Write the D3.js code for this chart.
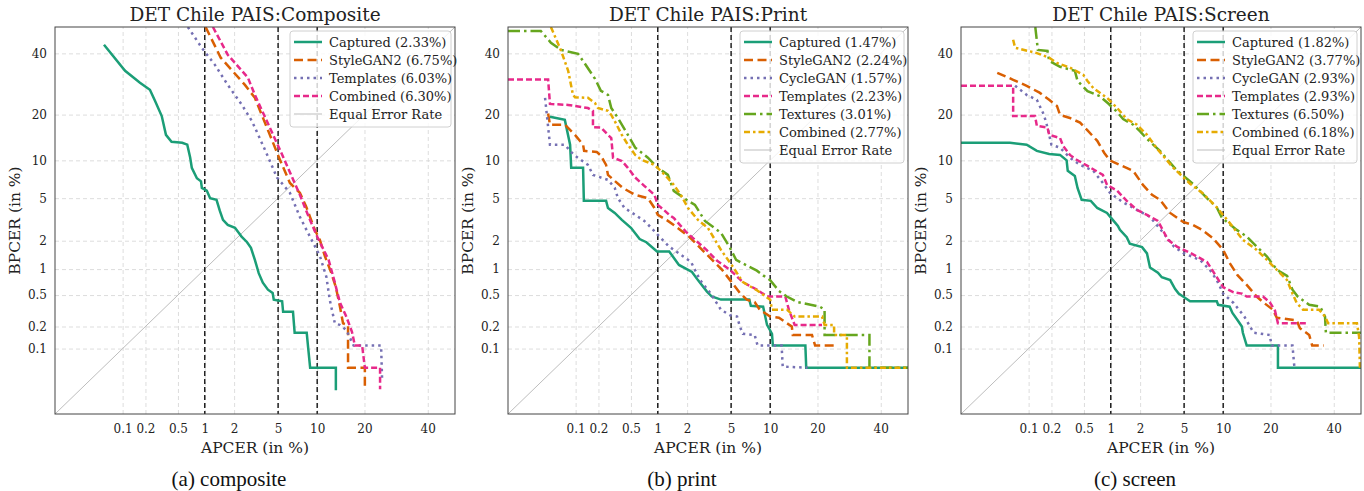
<!DOCTYPE html>
<html>
<head>
<meta charset="utf-8">
<script src="https://cdn.jsdelivr.net/npm/d3@7"></script>
<style>
  body { margin: 0; background: #fff; }
  svg { display: block; }
  .tick text { font-family: "DejaVu Serif", serif; font-size: 12px; fill: #222; }
  .grid line { stroke: #d4d4d4; stroke-dasharray: 4,3; stroke-width: 0.8; }
  .grid path { display: none; }
  .axis path { display: none; }
</style>
</head>
<body>
<div id="chart"></div>
<script>

// ---- data (APCER %, BPCER %) ----
const tickValues = [0.1, 0.2, 0.5, 1, 2, 5, 10, 20, 40];
const operatingPoints = [1, 5, 10];
const panelTitles = ["DET Chile PAIS:Composite", "DET Chile PAIS:Print", "DET Chile PAIS:Screen"];
const captions = ["(a) composite", "(b) print", "(c) screen"];

// composite
const compCaptured = [[0.055,43.2],[0.108,33.7],[0.17,29.6],[0.228,27.3],[0.264,23.9],[0.32,19.6],[0.36,15.0],[0.42,13.5],[0.56,13.3],[0.64,12.9],[0.69,10.5],[0.72,8.8],[0.82,7.3],[0.91,6.9],[0.93,6.1],[1.05,5.8],[1.14,5.0],[1.33,4.84],[1.44,3.86],[1.55,3.19],[1.73,2.86],[2.04,2.68],[2.18,2.45],[2.36,2.2],[2.66,1.93],[2.89,1.69],[3.14,1.26],[3.4,0.9],[3.7,0.7],[4.1,0.58],[4.5,0.53],[4.6,0.44],[5.4,0.42],[5.5,0.31],[6.6,0.31],[6.8,0.165],[8.4,0.165],[8.6,0.105],[8.9,0.053],[13.4,0.053],[13.4,0.024]];
const compStyleGAN2 = [[1.02,50],[1.47,38.4],[2.54,28.9],[3.14,24.8],[5.18,10.1],[6.24,6.7],[7.46,5.55],[8.3,4.25],[9.63,2.56],[10.45,2.04],[11.3,1.39],[12.5,0.91],[13.4,0.62],[14.2,0.37],[14.9,0.22],[16.0,0.21],[16.0,0.053],[20.1,0.053],[20.1,0.027]];
const compTemplates = [[0.65,50],[0.94,41.8],[1.28,35.8],[1.73,28.9],[2.38,22.7],[2.95,18.3],[3.14,16.7],[3.86,11.9],[4.9,7.4],[6.24,5.55],[7.46,3.4],[8.87,2.2],[10.45,1.39],[11.6,0.81],[12.2,0.44],[13.2,0.22],[14.2,0.21],[15.6,0.18],[17.3,0.11],[24.6,0.11],[24.9,0.035]];
const compCombined = [[1.22,50],[1.73,39.5],[2.71,31.3],[3.14,25.7],[5.18,11.9],[7.46,5.34],[8.87,3.19],[10.0,2.2],[12.0,1.26],[13.2,0.7],[14.2,0.41],[15.6,0.27],[16.9,0.17],[17.6,0.11],[19.4,0.11],[20.1,0.053],[24.3,0.053],[24.3,0.025]];

// print
const printCaptured = [[0.0436,19.4],[0.071,18.6],[0.084,12.9],[0.087,8.8],[0.126,8.8],[0.129,4.74],[0.25,4.74],[0.264,4.1],[0.32,3.7],[0.39,3.19],[0.5,2.68],[0.63,2.08],[0.75,1.93],[0.98,1.55],[1.32,1.55],[1.66,1.11],[2.23,0.93],[2.54,0.75],[3.08,0.55],[3.4,0.48],[4.1,0.44],[7.0,0.44],[7.2,0.37],[8.9,0.36],[9.5,0.21],[10.3,0.16],[10.45,0.11],[17.0,0.11],[17.2,0.053],[50,0.053]];
const printStyleGAN2 = [[0.041,20.3],[0.0436,17.4],[0.071,17.4],[0.098,15.0],[0.126,12.9],[0.13,11.7],[0.19,11.5],[0.215,10.8],[0.25,9.26],[0.264,7.76],[0.32,6.95],[0.40,6.1],[0.56,5.34],[0.78,5.0],[0.92,4.1],[1.0,3.55],[1.28,3.12],[1.47,2.86],[2.09,2.2],[3.8,1.11],[4.2,0.98],[4.9,0.75],[5.9,0.53],[6.7,0.44],[7.7,0.41],[8.4,0.33],[10.0,0.27],[11.5,0.26],[14.0,0.2],[14.2,0.154],[18.6,0.154],[19.4,0.11],[24.6,0.11]];
const printCycleGAN = [[0.037,24.8],[0.0436,12.9],[0.071,12.9],[0.084,11.7],[0.098,10.8],[0.146,9.26],[0.17,7.76],[0.264,7.09],[0.32,6.1],[0.35,5.0],[0.42,4.1],[0.56,3.55],[0.71,3.12],[0.85,2.68],[0.98,2.33],[1.32,1.74],[1.66,1.48],[2.18,1.2],[2.66,0.75],[3.3,0.53],[4.1,0.33],[4.9,0.28],[5.6,0.27],[5.9,0.2],[6.24,0.16],[7.7,0.154],[8.1,0.11],[12.0,0.11],[12.2,0.055],[17.5,0.053]];
const printTemplates = [[0.01,30.7],[0.041,30.7],[0.0436,23.0],[0.079,22.7],[0.146,21.8],[0.17,21.0],[0.17,16.8],[0.215,16.7],[0.264,15.0],[0.29,14.3],[0.305,10.45],[0.39,9.9],[0.46,8.8],[0.56,7.4],[0.71,6.35],[0.92,5.34],[1.0,4.37],[1.19,3.86],[1.32,3.55],[1.47,3.33],[1.95,2.45],[3.05,1.61],[3.8,1.23],[4.9,0.98],[6.24,0.71],[8.0,0.58],[9.5,0.48],[12.7,0.48],[13.4,0.33],[14.6,0.21],[21.2,0.21]];
const printTextures = [[0.01,48.5],[0.032,48.5],[0.045,44],[0.063,41.3],[0.108,39.8],[0.126,37.2],[0.181,30.9],[0.215,27.0],[0.264,25.7],[0.29,21.8],[0.35,19.1],[0.46,15.0],[0.56,12.3],[0.78,10.45],[1.0,8.8],[1.28,7.76],[1.47,5.77],[2.04,4.74],[2.38,4.37],[2.95,3.12],[4.1,2.4],[4.9,1.69],[5.5,1.26],[7.0,1.06],[8.0,0.96],[8.9,0.85],[10.0,0.75],[11.5,0.56],[13.0,0.48],[15.2,0.41],[20.6,0.36],[21.9,0.33],[21.9,0.154],[36,0.154],[36,0.053],[50,0.053]];
const printCombined = [[0.045,50],[0.063,40.9],[0.079,33.7],[0.092,25.7],[0.098,25.0],[0.146,24.8],[0.181,23.2],[0.197,21.8],[0.264,21.0],[0.29,19.9],[0.32,18.3],[0.39,15.0],[0.46,12.9],[0.56,10.95],[0.66,10.1],[0.92,9.26],[1.19,7.76],[1.47,6.46],[1.73,5.34],[2.04,4.1],[2.54,3.19],[3.14,2.68],[4.1,1.61],[5.18,1.06],[6.24,0.71],[8.0,0.57],[10.0,0.44],[10.3,0.33],[13.0,0.33],[14.6,0.27],[21.2,0.27],[21.9,0.21],[24.6,0.21],[24.6,0.154],[28.5,0.154],[28.5,0.053],[50,0.053]];

// screen
const screenCaptured = [[0.01,13.3],[0.055,13.3],[0.094,12.9],[0.129,11.7],[0.187,11.1],[0.257,10.95],[0.31,10.0],[0.32,8.35],[0.39,7.6],[0.42,6.1],[0.47,4.84],[0.6,4.74],[0.71,4.1],[0.91,3.7],[1.05,3.19],[1.19,2.8],[1.25,2.56],[1.47,2.17],[1.58,1.86],[2.09,1.72],[2.33,1.48],[2.49,1.04],[2.95,0.91],[3.2,0.81],[3.8,0.75],[4.2,0.59],[4.5,0.52],[4.9,0.48],[5.6,0.42],[9.0,0.42],[9.2,0.38],[11.1,0.36],[11.6,0.3],[12.6,0.24],[13.4,0.2],[13.6,0.165],[14.4,0.11],[22.0,0.11],[22.0,0.053],[50,0.053]];
const screenStyleGAN2 = [[0.036,33.0],[0.061,30.6],[0.094,28.6],[0.14,26.4],[0.187,24.2],[0.235,22.4],[0.257,19.9],[0.34,19.1],[0.45,17.9],[0.55,16.0],[0.71,13.7],[0.85,11.3],[0.98,10.0],[1.25,9.26],[1.71,8.35],[2.13,6.46],[2.6,5.34],[3.08,4.84],[3.8,3.7],[4.9,3.05],[5.9,2.86],[7.0,2.56],[8.4,2.13],[10.0,1.61],[11.1,1.17],[12.5,0.86],[14.4,0.66],[16.6,0.48],[18.1,0.41],[20.6,0.33],[21.7,0.26],[27.5,0.24],[28.5,0.19],[31.5,0.154],[32.5,0.11],[36.5,0.11]];
const screenCycleGAN = [[0.065,28.6],[0.094,25.7],[0.129,24.2],[0.16,19.9],[0.178,16.7],[0.2,12.9],[0.257,12.3],[0.34,10.45],[0.45,9.26],[0.64,8.35],[0.82,6.7],[0.98,5.55],[1.32,4.65],[1.86,3.94],[2.49,3.4],[3.3,2.4],[4.1,1.74],[4.9,1.5],[6.7,1.26],[8.0,0.98],[9.0,0.75],[10.0,0.52],[11.8,0.40],[13.9,0.27],[15.9,0.165],[19.8,0.154],[20.3,0.11],[26.2,0.11],[26.8,0.053]];
const screenTemplates = [[0.01,28.6],[0.061,28.6],[0.061,19.6],[0.122,19.6],[0.129,17.1],[0.178,16.7],[0.187,15.0],[0.257,14.3],[0.28,12.7],[0.34,10.95],[0.41,10.1],[0.55,9.1],[0.82,7.76],[0.91,6.46],[1.17,5.77],[1.47,4.74],[1.86,3.94],[2.33,3.55],[2.95,3.12],[3.64,2.04],[4.35,1.74],[5.6,1.5],[7.6,1.2],[9.0,0.81],[10.0,0.62],[11.8,0.54],[13.4,0.52],[14.4,0.48],[18.1,0.48],[19.8,0.41],[21.2,0.32],[22.0,0.22],[30.5,0.22]];
const screenTextures = [[0.123,50],[0.129,44.7],[0.133,41.3],[0.178,40.9],[0.187,37.2],[0.257,35.1],[0.39,33.7],[0.42,30.2],[0.55,26.9],[0.76,25.3],[0.94,23.1],[1.17,20.7],[1.35,18.8],[1.71,17.4],[2.0,15.8],[2.33,14.1],[3.08,11.7],[4.3,8.48],[5.9,6.6],[7.6,5.0],[9.0,4.15],[9.8,3.33],[12.4,2.56],[14.4,2.2],[16.6,1.74],[19.1,1.37],[21.7,0.98],[24.6,0.84],[26.2,0.58],[27.8,0.48],[31.5,0.38],[35.2,0.36],[36.9,0.27],[37.2,0.165],[50,0.165]];
const screenCombined = [[0.061,45.1],[0.065,42.1],[0.129,40.1],[0.187,38.4],[0.235,36.5],[0.34,34.8],[0.49,32.3],[0.55,30.2],[0.64,27.9],[0.91,24.8],[1.17,21.8],[1.47,18.8],[1.86,17.4],[2.33,15.0],[2.95,11.9],[4.0,8.9],[5.6,6.6],[7.0,5.55],[9.0,4.15],[11.1,2.99],[13.6,2.04],[16.6,1.61],[19.1,1.26],[21.7,0.98],[24.6,0.75],[26.2,0.52],[27.5,0.40],[29.5,0.33],[34.8,0.33],[36.9,0.27],[38.0,0.22],[48.5,0.22],[49.3,0.146],[49.6,0.053]];

const compLabels = ["Captured (2.33%)", "StyleGAN2 (6.75%)", "Templates (6.03%)", "Combined (6.30%)"];
const printLabels = ["Captured (1.47%)", "StyleGAN2 (2.24%)", "CycleGAN (1.57%)", "Templates (2.23%)", "Textures (3.01%)", "Combined (2.77%)"];
const screenLabels = ["Captured (1.82%)", "StyleGAN2 (3.77%)", "CycleGAN (2.93%)", "Templates (2.93%)", "Textures (6.50%)", "Combined (6.18%)"];

const colors = ["#1b9e77", "#d95f02", "#7570b3", "#e7298a", "#66a61e", "#e6ab02"];
const dashes = [null, "9,4.5", "2.5,4", "6,3", "12,4,2.5,4", "6,3,2.5,3"];

const panels = [
  { title: panelTitles[0], caption: captions[0], series: [compCaptured, compStyleGAN2, compTemplates, compCombined], labels: compLabels },
  { title: panelTitles[1], caption: captions[1], series: [printCaptured, printStyleGAN2, printCycleGAN, printTemplates, printTextures, printCombined], labels: printLabels },
  { title: panelTitles[2], caption: captions[2], series: [screenCaptured, screenStyleGAN2, screenCycleGAN, screenTemplates, screenTextures, screenCombined], labels: screenLabels }
];

// inverse normal CDF (Acklam)
function ppnd(p) {
  const a = [-3.969683028665376e+01, 2.209460984245205e+02, -2.759285104469687e+02, 1.383577518672690e+02, -3.066479806614716e+01, 2.506628277459239e+00];
  const b = [-5.447609879822406e+01, 1.615858368580409e+02, -1.556989798598866e+02, 6.680131188771972e+01, -1.328068155288572e+01];
  const c = [-7.784894002430293e-03, -3.223964580411365e-01, -2.400758277161838e+00, -2.549732539343734e+00, 4.374664141464968e+00, 2.938163982698783e+00];
  const d = [7.784695709041462e-03, 3.224671290700398e-01, 2.445134137142996e+00, 3.754408661907416e+00];
  const pl = 0.02425;
  let q, r;
  if (p < pl) {
    q = Math.sqrt(-2 * Math.log(p));
    return (((((c[0]*q+c[1])*q+c[2])*q+c[3])*q+c[4])*q+c[5]) / ((((d[0]*q+d[1])*q+d[2])*q+d[3])*q+1);
  } else if (p <= 1 - pl) {
    q = p - 0.5; r = q * q;
    return (((((a[0]*r+a[1])*r+a[2])*r+a[3])*r+a[4])*r+a[5])*q / (((((b[0]*r+b[1])*r+b[2])*r+b[3])*r+b[4])*r+1);
  } else {
    q = Math.sqrt(-2 * Math.log(1 - p));
    return -(((((c[0]*q+c[1])*q+c[2])*q+c[3])*q+c[4])*q+c[5]) / ((((d[0]*q+d[1])*q+d[2])*q+d[3])*q+1);
  }
}
const probit = pct => ppnd(pct / 100);

/*
SVG CANVAS
*/
const width = 1364, height = 491;
const margin = { top: 27, left: 55 };
const plotW = 400, plotH = 387, panelStep = 453;

const svg = d3.select("#chart")
  .append("svg")
  .attr("width", width)
  .attr("height", height);

const serif = '"DejaVu Serif", serif';

panels.forEach(function (panel, pi) {

  const g = svg.append("g")
    .attr("transform", `translate(${margin.left + pi * panelStep},${margin.top})`);

  const xScale = d3.scaleLinear()
    .domain([probit(0.01), probit(50)])
    .range([0, plotW]);

  const yScale = d3.scaleLinear()
    .domain([probit(0.01), probit(50)])
    .range([plotH, 0]);

  const tickProbits = tickValues.map(probit);
  const fmt = function (v) {
    const i = tickProbits.findIndex(t => Math.abs(t - v) < 1e-9);
    return i >= 0 ? String(tickValues[i]) : "";
  };

  // grid
  g.append("g")
    .attr("class", "grid")
    .attr("transform", `translate(0,${plotH})`)
    .call(d3.axisBottom(xScale).tickValues(tickProbits).tickSize(-plotH).tickFormat(""));
  g.append("g")
    .attr("class", "grid")
    .call(d3.axisLeft(yScale).tickValues(tickProbits).tickSize(-plotW).tickFormat(""));

  // axes (labels only)
  g.append("g")
    .attr("class", "axis")
    .attr("transform", `translate(0,${plotH})`)
    .call(d3.axisBottom(xScale).tickValues(tickProbits).tickSize(0).tickPadding(10).tickFormat(fmt))
    .call(a => a.selectAll("line").remove());
  g.append("g")
    .attr("class", "axis")
    .call(d3.axisLeft(yScale).tickValues(tickProbits).tickSize(0).tickPadding(8).tickFormat(fmt))
    .call(a => a.selectAll("line").remove());

  // clip
  const clipId = "clip" + pi;
  g.append("clipPath").attr("id", clipId)
    .append("rect").attr("width", plotW).attr("height", plotH);

  const plot = g.append("g").attr("clip-path", `url(#${clipId})`);

  // equal error rate line
  plot.append("line")
    .attr("x1", xScale(probit(0.01))).attr("y1", yScale(probit(0.01)))
    .attr("x2", xScale(probit(50))).attr("y2", yScale(probit(50)))
    .attr("stroke", "#bdbdbd")
    .attr("stroke-width", 1);

  // operating point lines
  plot.selectAll(".op")
    .data(operatingPoints)
    .enter()
    .append("line")
    .attr("x1", d => xScale(probit(d))).attr("x2", d => xScale(probit(d)))
    .attr("y1", 0).attr("y2", plotH)
    .attr("stroke", "#000")
    .attr("stroke-width", 1.3)
    .attr("stroke-dasharray", "5,3");

  const line = d3.line()
    .x(d => xScale(probit(d[0])))
    .y(d => yScale(probit(d[1])));

  panel.series.forEach(function (s, si) {
    plot.append("path")
      .datum(s)
      .attr("d", line)
      .attr("fill", "none")
      .attr("stroke", colors[si])
      .attr("stroke-width", 2.5)
      .attr("stroke-dasharray", dashes[si]);
  });

  // frame
  g.append("rect")
    .attr("width", plotW).attr("height", plotH)
    .attr("fill", "none")
    .attr("stroke", "#444")
    .attr("stroke-width", 1);

  // legend
  const rowH = 18;
  const nRows = panel.labels.length + 1;
  const legW = pi === 0 ? 161 : 164;
  const legX = plotW - legW - 4, legY = 4;
  const leg = g.append("g").attr("transform", `translate(${legX},${legY})`);
  leg.append("rect")
    .attr("width", legW).attr("height", nRows * rowH + 6)
    .attr("rx", 3)
    .attr("fill", "#fff").attr("fill-opacity", 0.8)
    .attr("stroke", "#d0d0d0");
  const entries = panel.labels.map((l, i) => ({ label: l, color: colors[i], dash: dashes[i], w: 2.5 }))
    .concat([{ label: "Equal Error Rate", color: "#bdbdbd", dash: null, w: 1 }]);
  entries.forEach(function (e, i) {
    const cy = 11 + i * rowH;
    leg.append("line")
      .attr("x1", 4).attr("x2", 32)
      .attr("y1", cy).attr("y2", cy)
      .attr("stroke", e.color)
      .attr("stroke-width", e.w)
      .attr("stroke-dasharray", e.dash);
    leg.append("text")
      .attr("x", 39).attr("y", cy)
      .attr("dy", "0.35em")
      .attr("font-family", serif)
      .attr("font-size", 13)
      .attr("fill", "#222")
      .text(e.label);
  });

  // title and labels
  g.append("text")
    .attr("x", plotW / 2).attr("y", -6)
    .attr("text-anchor", "middle")
    .attr("font-family", serif)
    .attr("font-size", 18.5)
    .attr("fill", "#222")
    .text(panel.title);

  g.append("text")
    .attr("x", plotW / 2).attr("y", plotH + 39)
    .attr("text-anchor", "middle")
    .attr("font-family", serif)
    .attr("font-size", 15.5)
    .attr("fill", "#222")
    .text("APCER (in %)");

  g.append("text")
    .attr("transform", "rotate(-90)")
    .attr("x", -plotH / 2).attr("y", -35)
    .attr("text-anchor", "middle")
    .attr("font-family", serif)
    .attr("font-size", 15.5)
    .attr("fill", "#222")
    .text("BPCER (in %)");

  g.append("text")
    .attr("x", plotW / 2 - 26).attr("y", plotH + 72)
    .attr("text-anchor", "middle")
    .attr("font-family", '"Liberation Serif", "Times New Roman", serif')
    .attr("font-size", 21)
    .attr("fill", "#111")
    .text(panel.caption);
});

</script>
</body>
</html>
